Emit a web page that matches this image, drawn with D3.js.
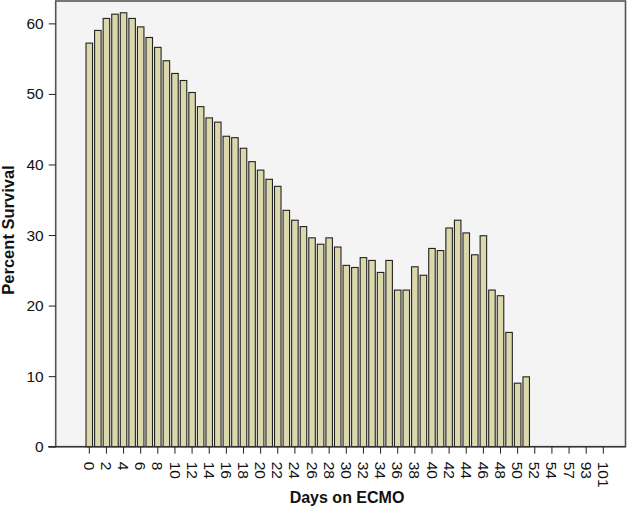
<!DOCTYPE html>
<html>
<head>
<meta charset="utf-8">
<script src="https://cdn.jsdelivr.net/npm/d3@7/dist/d3.min.js"></script>
<style>
  html, body { margin: 0; padding: 0; background: #ffffff; }
  svg { display: block; }
  text { font-family: "Liberation Sans", Arial, sans-serif; fill: #111; }
</style>
</head>
<body>
<svg id="chart" width="627" height="507"></svg>
<script>
// Day categories (the axis is categorical; only every other one is labelled)
const days = [
  "0","1","2","3","4","5","6","7","8","9",
  "10","11","12","13","14","15","16","17","18","19",
  "20","21","22","23","24","25","26","27","28","29",
  "30","31","32","33","34","35","36","37","38","39",
  "40","41","42","43","44","45","46","47","48","49",
  "50","51","52","53","54","55","57","63","93","97","101"
];
// Percent survival per day
const survival = [
  57.2, 59.0, 60.7, 61.3, 61.5, 60.7, 59.5, 58.0, 56.6, 54.7,
  52.9, 51.9, 50.2, 48.2, 46.6, 46.0, 44.0, 43.8, 42.3, 40.4,
  39.2, 37.9, 36.9, 33.5, 32.1, 31.2, 29.6, 28.7, 29.6, 28.3,
  25.7, 25.4, 26.8, 26.4, 24.7, 26.4, 22.2, 22.2, 25.5, 24.3,
  28.1, 27.8, 31.0, 32.1, 30.3, 27.2, 29.9, 22.2, 21.4, 16.2,
  9.0, 9.9, 0, 0, 0, 0, 0, 0, 0, 0, 0
];
// Labelled ticks
const xTickLabels = ["0","2","4","6","8","10","12","14","16","18","20","22","24","26","28","30",
  "32","34","36","38","40","42","44","46","48","50","52","54","57","93","101"];
const yTicks = [0, 10, 20, 30, 40, 50, 60];

const data = days.map((d, i) => ({ day: d, value: survival[i] }));

const svg = d3.select("#chart");
const plot = { left: 55.7, right: 625.5, top: 1, bottom: 446.7 };

const x = d3.scaleBand()
  .domain(days)
  .range([85.0, 607.6])
  .paddingInner(0.24)
  .paddingOuter(0.12);

const y = d3.scaleLinear()
  .domain([0, 63.17])
  .range([plot.bottom, plot.top]);

// Plot background
svg.append("rect")
  .attr("x", plot.left)
  .attr("y", plot.top)
  .attr("width", plot.right - plot.left)
  .attr("height", plot.bottom - plot.top)
  .attr("fill", "#f4f4f4")
  .attr("stroke", "#555")
  .attr("stroke-width", 1.6);

// Bars
svg.append("g")
  .selectAll("rect")
  .data(data.filter(d => d.value > 0))
  .join("rect")
  .attr("x", d => x(d.day))
  .attr("y", d => y(d.value))
  .attr("width", x.bandwidth())
  .attr("height", d => y(0) - y(d.value))
  .attr("fill", "#dcd8ac")
  .attr("stroke", "#222")
  .attr("stroke-width", 1.1);

// X axis
const xAxis = d3.axisBottom(x)
  .tickValues(xTickLabels)
  .tickSize(7)
  .tickSizeOuter(0);
const gx = svg.append("g")
  .attr("transform", `translate(0,${plot.bottom})`)
  .call(xAxis);
gx.select(".domain").remove();
gx.selectAll(".tick line").attr("stroke", "#222");
gx.selectAll(".tick text")
  .attr("font-size", 15.5)
  .attr("font-family", "'Liberation Sans', Arial, sans-serif")
  .attr("fill", "#111")
  .attr("transform", "rotate(90)")
  .attr("text-anchor", "start")
  .attr("dy", "0.35em")
  .attr("x", 15)
  .attr("y", 0);

// bottom axis line
svg.append("line")
  .attr("x1", 48).attr("x2", plot.right)
  .attr("y1", plot.bottom).attr("y2", plot.bottom)
  .attr("stroke", "#333").attr("stroke-width", 1.2);

// Y axis
const yAxis = d3.axisLeft(y)
  .tickValues(yTicks)
  .tickSize(7)
  .tickSizeOuter(0);
const gy = svg.append("g")
  .attr("transform", `translate(${plot.left},0)`)
  .call(yAxis);
gy.select(".domain").remove();
gy.selectAll(".tick line").attr("stroke", "#222");
gy.selectAll(".tick text")
  .attr("font-size", 15.5)
  .attr("font-family", "'Liberation Sans', Arial, sans-serif")
  .attr("fill", "#111")
  .attr("x", -12);

// Axis titles
svg.append("text")
  .attr("x", 347)
  .attr("y", 503)
  .attr("text-anchor", "middle")
  .attr("font-size", 16)
  .attr("font-weight", "bold")
  .text("Days on ECMO");

svg.append("text")
  .attr("transform", `translate(13.5,230) rotate(-90)`)
  .attr("text-anchor", "middle")
  .attr("font-size", 16.5)
  .attr("font-weight", "bold")
  .text("Percent Survival");
</script>
</body>
</html>
